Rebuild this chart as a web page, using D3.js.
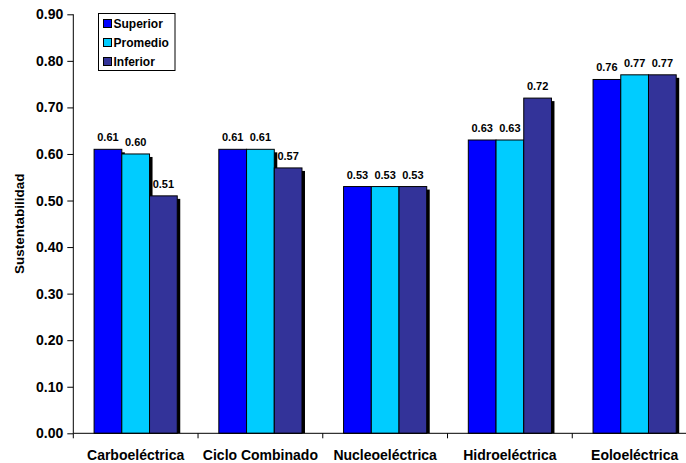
<!DOCTYPE html>
<html><head><meta charset="utf-8">
<script src="https://cdn.jsdelivr.net/npm/d3@7"></script>
<style>body{margin:0;background:#fff;overflow:hidden}svg{display:block}text{font-family:Arial,"Liberation Sans",sans-serif;font-weight:bold}</style>
</head><body>
<svg id="c" width="686" height="463"></svg>
<script>
const categories = ["Carboeléctrica","Ciclo Combinado","Nucleoeléctrica","Hidroeléctrica","Eoloeléctrica"];
const seriesNames = ["Superior","Promedio","Inferior"];
const superior = [0.61,0.61,0.53,0.63,0.76];
const promedio = [0.60,0.61,0.53,0.63,0.77];
const inferior = [0.51,0.57,0.53,0.72,0.77];
const yTicks = [0,0.1,0.2,0.3,0.4,0.5,0.6,0.7,0.8,0.9];
const colors = ["#0000FF","#00CCFF","#333399"];
const values = [superior,promedio,inferior];

const svg = d3.select("#c");
const mLeft = 73.3, mRight = 697, mTop = 14.3, mBottom = 433.3;
const y = d3.scaleLinear().domain([0,0.9]).range([mBottom, mTop]);
const x0 = d3.scaleBand().domain(categories).range([mLeft,mRight]).paddingInner(0).paddingOuter(0);
const bw = x0.bandwidth()/4.5;
const x1 = d3.scaleBand().domain(seriesNames).range([bw*0.75, bw*3.75]);

// bars with shadow
const g = svg.append("g");
categories.forEach((c,i)=>{
  seriesNames.forEach((s,j)=>{
    const v = values[j][i];
    const bx = x0(c)+x1(s);
    g.append("rect").attr("x",bx+3).attr("y",y(v)+3).attr("width",bw).attr("height",mBottom-y(v)-3).attr("fill","#000");
  });
  seriesNames.forEach((s,j)=>{
    const v = values[j][i];
    const bx = x0(c)+x1(s);
    g.append("rect").attr("x",bx).attr("y",y(v)).attr("width",bw).attr("height",mBottom-y(v))
      .attr("fill",colors[j]).attr("stroke","#000").attr("stroke-width",1);
    g.append("text").attr("x",bx+bw/2).attr("y",y(v)-8).attr("text-anchor","middle")
      .attr("font-size",11).text(v.toFixed(2));
  });
});

// y axis
const ya = d3.axisLeft(y).tickValues(yTicks).tickFormat(d3.format(".2f")).tickSize(6).tickPadding(4);
const yg = svg.append("g").attr("transform",`translate(${mLeft},0)`).call(ya);
yg.select(".domain").attr("stroke","#000").attr("d",`M0,${mTop}V${mBottom}`);
yg.selectAll("text").attr("font-size",14).attr("fill","#000").style("font-family","Arial,'Liberation Sans',sans-serif").style("font-weight","bold");

// x axis
const xg = svg.append("g").attr("transform",`translate(0,${mBottom})`);
xg.append("line").attr("x1",mLeft).attr("x2",mRight).attr("stroke","#000");
xg.selectAll(".tk").data(categories).enter().append("line")
  .attr("x1",d=>x0(d)).attr("x2",d=>x0(d)).attr("y1",0).attr("y2",5).attr("stroke","#000");
xg.selectAll(".lb").data(categories).enter().append("text")
  .attr("x",d=>x0(d)+x0.bandwidth()/2).attr("y",27).attr("text-anchor","middle").attr("font-size",14).text(d=>d);

// y title
svg.append("text").attr("transform",`translate(24,${(mTop+mBottom)/2}) rotate(-90)`).attr("text-anchor","middle")
  .attr("font-size",13.5).text("Sustentabilidad");

// legend
const lg = svg.append("g").attr("transform","translate(98.5,13.5)");
lg.append("rect").attr("width",76.5).attr("height",57).attr("fill","#fff").attr("stroke","#000");
seriesNames.forEach((s,j)=>{
  lg.append("rect").attr("x",5).attr("y",6+j*19).attr("width",8).attr("height",8).attr("fill",colors[j]).attr("stroke","#000");
  lg.append("text").attr("x",15).attr("y",14.5+j*19).attr("font-size",12).text(s);
});
</script>
</body></html>
